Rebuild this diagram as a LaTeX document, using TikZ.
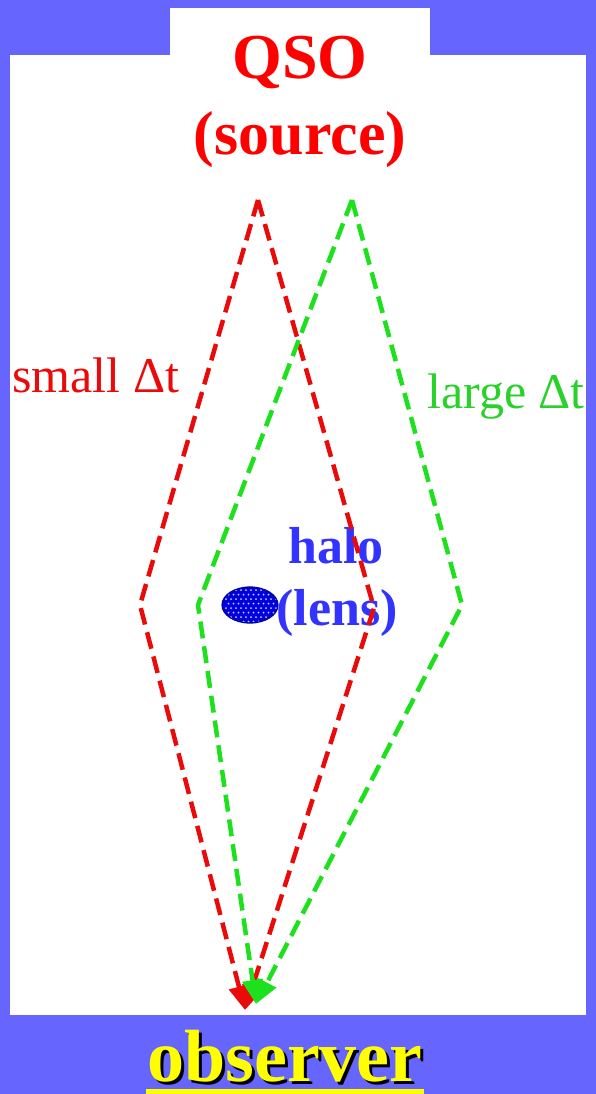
\documentclass[tikz,border=0pt]{standalone}
\usepackage{fontspec}
\setmainfont{Liberation Serif}
\usetikzlibrary{arrows.meta,shapes.geometric}
\definecolor{bgblue}{RGB}{102,102,255}
\definecolor{pred}{RGB}{235,10,10}
\definecolor{pgreen}{RGB}{30,225,30}
\definecolor{tgreen}{RGB}{40,210,40}
\definecolor{hblue}{RGB}{51,51,255}
\definecolor{lensblue}{RGB}{0,0,220}
\definecolor{obsyellow}{RGB}{255,255,0}
\tikzset{
  ray/.style={line width=4.5pt, dash pattern=on 17pt off 8pt, -{Triangle[length=24pt,width=20pt]}},
  lbl/.style={inner sep=0pt, anchor=base},
}
\begin{document}
\begin{tikzpicture}[x=1pt,y=-1pt]
\useasboundingbox (0,0) rectangle (596,1094);
\fill[bgblue] (0,0) rectangle (596,1094);
\fill[white] (10,55) rectangle (586,1015);
\fill[white] (170,8) rectangle (430,56);
% texts
\node[lbl, text=red, font=\bfseries\fontsize{64}{64}\selectfont] (qso) at (300,79) {QSO};
\node[lbl, text=red, font=\bfseries\fontsize{62}{62}\selectfont] (src) at (300,155) {(source)};
\node[lbl, text=pred, font=\fontsize{50}{50}\selectfont, anchor=base west] (small) at (12,392) {small Δt};
\node[lbl, text=tgreen, font=\fontsize{50}{50}\selectfont, anchor=base west] (large) at (427,408) {large Δt};
\node[lbl, text=hblue, font=\bfseries\fontsize{52}{52}\selectfont] (halo) at (336,563) {halo};
\node[lbl, text=hblue, font=\bfseries\fontsize{52}{52}\selectfont] (lens) at (337,625) {(lens)};
% lens ellipse
\begin{scope}
\clip (250,605) ellipse [x radius=28, y radius=18];
\fill[lensblue] (250,605) ellipse [x radius=28, y radius=18];
\foreach \i in {0,...,10} {\foreach \j in {0,...,7} {
  \fill[white!80!blue] ({226+\i*5+mod(\j,2)*2.5}, {590+\j*4.5}) circle (1);
}}
\end{scope}
\node[draw=lensblue!70!black, line width=1.2pt, ellipse, minimum width=56, minimum height=36, inner sep=0pt] (halolens) at (250,605) {};
% ray vertices
\coordinate (rtop) at (258,200);
\coordinate (rl) at (140,605);
\coordinate (rr) at (374,608);
\coordinate (robs) at (245,1010);
\coordinate (gtop) at (352,200);
\coordinate (gl) at (198,605);
\coordinate (gr) at (462,605);
\coordinate (gobs) at (256,1004);
\draw[ray, pred] (rtop) -- (rl) -- (robs);
\draw[ray, pred] (rtop) -- (rr) -- (robs);
\draw[ray, pgreen] (gtop) -- (gl) -- (gobs);
\draw[ray, pgreen] (gtop) -- (gr) -- (gobs);
% observer
\node[lbl, text=obsyellow, text depth=0pt, font=\bfseries\fontsize{74}{74}\selectfont] (obs) at (285,1081)
  {\rlap{\kern3pt\raisebox{-3pt}[0pt][0pt]{\textcolor{black}{observer}}}observer};
\fill[obsyellow] (146,1089) rectangle (424,1094);
\end{tikzpicture}
\end{document}
